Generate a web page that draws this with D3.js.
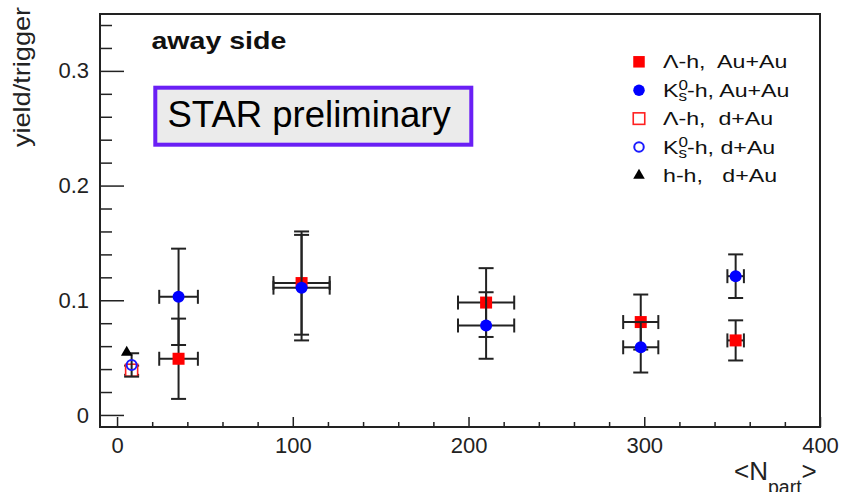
<!DOCTYPE html>
<html>
<head>
<meta charset="utf-8">
<script src="https://cdn.jsdelivr.net/npm/d3@7"></script>
<style>
body { margin: 0; background: #fff; }
svg { display: block; font-family: "Liberation Sans", Arial, Helvetica, sans-serif; }
</style>
</head>
<body>
<svg id="chart" width="841" height="492"></svg>
<script>
////////////// Data
// Au+Au centrality bins
var auauNpart    = [35, 105, 210, 298, 352];
var auauNpartErr = [11, 16, 16, 10, 4.7];
var lambdaAuAu    = [0.049, 0.115, 0.098, 0.081, 0.065];
var lambdaAuAuErr = [0.035, 0.045, 0.030, 0.024, 0.0175];
var k0sAuAu    = [0.103, 0.111, 0.078, 0.059, 0.121];
var k0sAuAuErr = [0.042, 0.046, 0.029, 0.022, 0.019];

// d+Au references
var dauNpart     = [8.3];
var lambdaDAu    = [0.039];
var lambdaDAuErr = [0.004];
var k0sDAu       = [0.0436];
var k0sDAuErr    = [0.0102];
var hhNpart      = [5.5];
var hhDAu        = [0.0545];

var xTickLabels = [0, 100, 200, 300, 400];
var yTickLabels = [0, 0.1, 0.2, 0.3];

var legendParticle = ["Λ", "K", "Λ", "K", "h"];
var legendRest = ["-h,  Au+Au", "-h, Au+Au", "-h,  d+Au", "-h, d+Au", "-h,   d+Au"];

////////////// Series table
var series = [
    { n: auauNpart, nErr: auauNpartErr, v: lambdaAuAu, vErr: lambdaAuAuErr, shape: "square", fill: "#ff0000", stroke: "none" },
    { n: auauNpart, nErr: auauNpartErr, v: k0sAuAu, vErr: k0sAuAuErr, shape: "circle", fill: "#0000ff", stroke: "none" },
    { n: dauNpart, nErr: [0], v: lambdaDAu, vErr: lambdaDAuErr, shape: "square", fill: "#fff", stroke: "#ff2020" },
    { n: dauNpart, nErr: [0], v: k0sDAu, vErr: k0sDAuErr, shape: "circle", fill: "none", stroke: "#1a1aff" },
    { n: hhNpart, nErr: [0], v: hhDAu, vErr: [0], shape: "triangle", fill: "#000", stroke: "none" }
];

var svg = d3.select("#chart");
var padL = 100, padR = 820, padT = 14, padB = 427;
var ink = "#222";

var x = d3.scaleLinear().domain([-9.7, 400]).range([padL, padR]);
var y = d3.scaleLinear().domain([-0.0105, 0.3496]).range([padB, padT]);

////////////// Axes
var xMinor = d3.range(0, 21).map(function(i) { return i * 20; });
var xAxis = svg.append("g")
    .attr("transform", "translate(0," + padB + ")")
    .call(d3.axisBottom(x).tickValues(xMinor).tickSize(-5).tickPadding(10)
        .tickFormat(function(d) { return xTickLabels.indexOf(d) >= 0 ? d : ""; }));
xAxis.select(".domain").remove();
xAxis.selectAll(".tick line")
    .attr("stroke", ink).attr("stroke-width", 1.5)
    .attr("y2", function(d) { return xTickLabels.indexOf(d) >= 0 ? -10 : -5; });
xAxis.selectAll(".tick text")
    .attr("fill", ink)
    .style("font-size", "22px")
    .style("font-family", "Liberation Sans, Arial, sans-serif");

var yMinor = d3.range(0, 18).map(function(i) { return i * 0.02; });
function isMajorY(d) {
    return yTickLabels.some(function(t) { return Math.abs(t - d) < 1e-6; });
}
var yAxis = svg.append("g")
    .attr("transform", "translate(" + padL + ",0)")
    .call(d3.axisLeft(y).tickValues(yMinor).tickSize(-12).tickPadding(11)
        .tickFormat(function(d) {
            if (!isMajorY(d)) return "";
            return Math.abs(d) < 1e-9 ? "0" : d3.format(".1f")(d);
        }));
yAxis.select(".domain").remove();
yAxis.selectAll(".tick line")
    .attr("stroke", ink).attr("stroke-width", 1.5)
    .attr("x2", function(d) { return isMajorY(d) ? 24 : 12; });
yAxis.selectAll(".tick text")
    .attr("fill", ink)
    .style("font-size", "22px")
    .style("font-family", "Liberation Sans, Arial, sans-serif");

// frame
svg.append("rect")
    .attr("x", padL).attr("y", padT)
    .attr("width", padR - padL).attr("height", padB - padT)
    .attr("fill", "none").attr("stroke", ink).attr("stroke-width", 2);

// axis titles (ROOT text is drawn a bit wider than Liberation Sans)
svg.append("text")
    .attr("transform", "translate(29.5,77) rotate(-90) scale(1.18,1)")
    .attr("text-anchor", "middle")
    .style("font-size", "23px")
    .attr("fill", ink)
    .text("yield/trigger");

var xt = svg.append("text")
    .attr("x", 734).attr("y", 480)
    .style("font-size", "26px")
    .attr("fill", ink);
xt.append("tspan").text("<N");
xt.append("tspan").attr("dy", 14).style("font-size", "19.5px").text("part");
xt.append("tspan").attr("dy", -14).text(">");

////////////// Labels in the pad
svg.append("text")
    .attr("transform", "translate(151.5,49.3) scale(1.19,1)")
    .style("font-size", "24px").style("font-weight", "bold")
    .attr("fill", "#111")
    .text("away side");

svg.append("rect")
    .attr("x", 155.3).attr("y", 87.7)
    .attr("width", 316).attr("height", 57)
    .attr("fill", "#ebebeb")
    .attr("stroke", "#6a1ff5").attr("stroke-width", 4);
svg.append("text")
    .attr("x", 167.5).attr("y", 126.7)
    .style("font-size", "36.5px")
    .attr("fill", "#000")
    .text("STAR preliminary");

////////////// Error bars and markers
var capV = 7.5, capH = 7;

function drawMarker(g, s, cx, cy, size) {
    if (s.shape === "square") {
        g.append("rect")
            .attr("x", cx - size / 2).attr("y", cy - size / 2)
            .attr("width", size).attr("height", size)
            .attr("fill", s.fill)
            .attr("stroke", s.stroke).attr("stroke-width", 1.6);
    } else if (s.shape === "circle") {
        g.append("circle")
            .attr("cx", cx).attr("cy", cy).attr("r", s.stroke === "none" ? size / 2 : size / 2 - 1)
            .attr("fill", s.fill)
            .attr("stroke", s.stroke).attr("stroke-width", 2);
    } else {
        g.append("path")
            .attr("transform", "translate(" + cx + "," + cy + ")")
            .attr("d", d3.symbol(d3.symbolTriangle, 58)())
            .attr("fill", s.fill);
    }
}

series.forEach(function(s) {
    var g = svg.append("g");
    s.v.forEach(function(v, i) {
        var cx = x(s.n[i]), cy = y(v);
        var e = s.vErr[i], ex = s.nErr[i];
        var eb = g.append("g").attr("stroke", ink).attr("stroke-width", 2).attr("fill", "none");
        if (e > 0) {
            var y0 = y(v - e), y1 = y(v + e);
            eb.append("line").attr("x1", cx).attr("x2", cx).attr("y1", y0).attr("y2", y1);
            [y0, y1].forEach(function(yy) {
                eb.append("line").attr("x1", cx - capV).attr("x2", cx + capV).attr("y1", yy).attr("y2", yy);
            });
        }
        if (ex > 0) {
            var x0 = x(s.n[i] - ex), x1 = x(s.n[i] + ex);
            eb.append("line").attr("x1", x0).attr("x2", x1).attr("y1", cy).attr("y2", cy);
            [x0, x1].forEach(function(xx) {
                eb.append("line").attr("x1", xx).attr("x2", xx).attr("y1", cy - capH).attr("y2", cy + capH);
            });
        }
        drawMarker(g, s, cx, cy, 12);
    });
});

////////////// Legend
var legendX = 639, legendTextX = 663, legendY0 = 68.3, legendStep = 28.4;
series.forEach(function(s, i) {
    var base = legendY0 + i * legendStep;
    var lg = svg.append("g");
    drawMarker(lg, s, legendX, base - 6.5, 11.5);

    var t = lg.append("text")
        .attr("transform", "translate(" + legendTextX + "," + base + ") scale(1.22,1)")
        .style("font-size", "19px")
        .style("white-space", "pre")
        .attr("fill", "#111");
    t.append("tspan").text(legendParticle[i]);
    if (legendParticle[i] === "K") {
        t.append("tspan").attr("dy", -6.7).style("font-size", "14px").text("0");
        t.append("tspan").attr("dx", -7.8).attr("dy", 11).style("font-size", "14px").text("s");
        t.append("tspan").attr("dy", -4.3).text(legendRest[i]);
    } else {
        t.append("tspan").text(legendRest[i]);
    }
});
</script>
</body>
</html>
